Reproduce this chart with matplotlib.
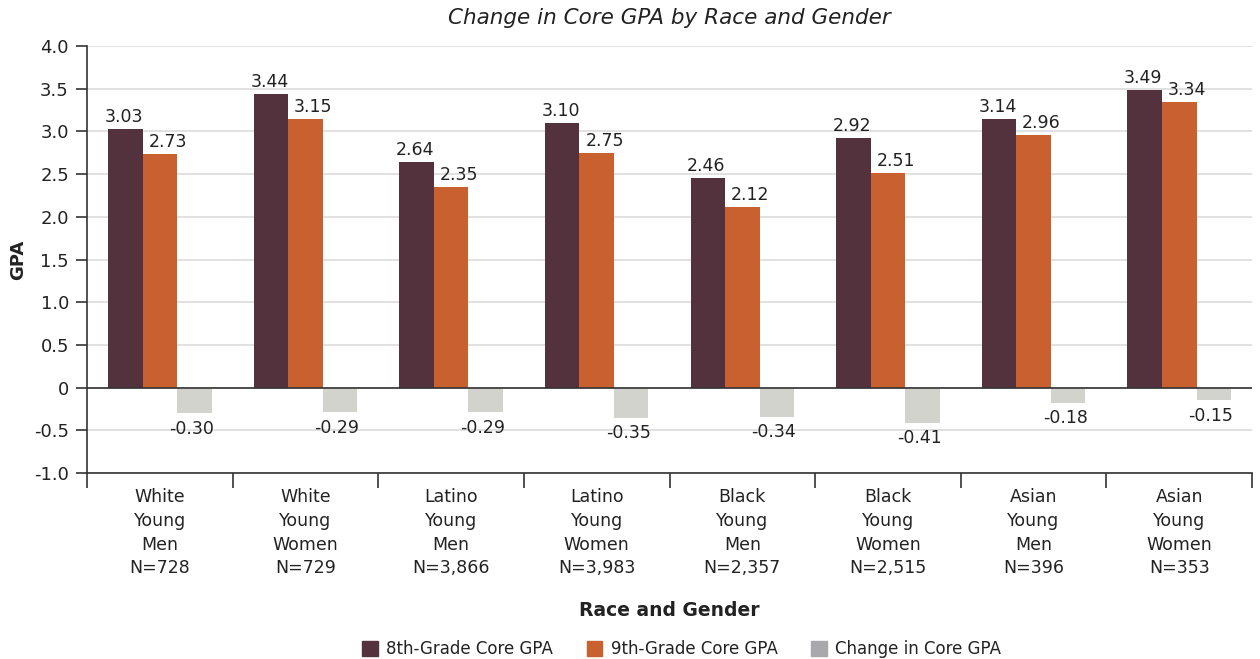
import numpy as np
import matplotlib
matplotlib.use("Agg")
import matplotlib.pyplot as plt
from matplotlib.patches import Patch

plt.rcParams['font.family'] = ['DejaVu Sans']

groups = ["White\nYoung\nMen\nN=728", "White\nYoung\nWomen\nN=729",
          "Latino\nYoung\nMen\nN=3,866", "Latino\nYoung\nWomen\nN=3,983",
          "Black\nYoung\nMen\nN=2,357", "Black\nYoung\nWomen\nN=2,515",
          "Asian\nYoung\nMen\nN=396", "Asian\nYoung\nWomen\nN=353"]
gpa_8th = [3.03, 3.44, 2.64, 3.10, 2.46, 2.92, 3.14, 3.49]
gpa_9th = [2.73, 3.15, 2.35, 2.75, 2.12, 2.51, 2.96, 3.34]
change = [-0.30, -0.29, -0.29, -0.35, -0.34, -0.41, -0.18, -0.15]

c8 = "#54323d"
c9 = "#c8612f"
cchg = "#d3d3cd"
clegchg = "#a9a9ad"
txt = "#222222"

fig = plt.figure(figsize=(12.6, 6.59), dpi=100)
ax = fig.add_axes([0.069, 0.2822, 0.9247, 0.6480])

x = np.arange(len(groups))
w = 0.237
b8 = ax.bar(x - w, gpa_8th, w, color=c8, zorder=3)
b9 = ax.bar(x, gpa_9th, w, color=c9, zorder=3)
bc = ax.bar(x + w, change, w, color=cchg, zorder=3)

# labels: 9th-grade ones sit a little right of their bar, like the original
for bars, vals, dx in [(b8, gpa_8th, -0.01), (b9, gpa_9th, 0.055)]:
    for r, v in zip(bars, vals):
        ax.text(r.get_x() + r.get_width() / 2 + dx, v + 0.035, f"{v:.2f}",
                ha='center', va='bottom', fontsize=12.5, color=txt, zorder=4)
for r, v in zip(bc, change):
    ax.text(r.get_x() + r.get_width() / 2 - 0.02, v - 0.075, f"{v:.2f}",
            ha='center', va='top', fontsize=12.5, color=txt, zorder=4)

ax.set_xlim(-0.5, len(groups) - 0.5)
ax.set_ylim(-1.0, 4.0)
yt = np.arange(-1.0, 4.01, 0.5)
ax.set_yticks(yt)
ax.set_yticklabels(["0" if abs(t) < 1e-9 else f"{t:.1f}" for t in yt])
ax.yaxis.grid(True, color="#dcdcdc", linewidth=1.2, zorder=0)
ax.axhline(0, color="#333333", linewidth=1.2, zorder=5)

ax.set_xticks(x)
ax.set_xticklabels(groups, fontsize=12.5, color=txt, linespacing=1.4)
ax.set_xticks(np.arange(-0.5, len(groups)), minor=True)
ax.tick_params(axis='x', which='major', length=0, pad=11)
ax.tick_params(axis='x', which='minor', length=11, width=1.2, color="#333333")
ax.tick_params(axis='y', length=8, width=1.2, color="#333333", labelsize=13,
               labelcolor=txt, pad=5)

for s in ['top', 'right']:
    ax.spines[s].set_visible(False)
for s in ['left', 'bottom']:
    ax.spines[s].set_color("#333333")
    ax.spines[s].set_linewidth(1.2)

ax.set_ylabel("GPA", fontsize=13, fontweight='bold', color=txt)
ax.yaxis.set_label_coords(-0.051, 0.5)
fig.text(0.531, 1 - 611 / 659, "Race and Gender", fontsize=13.5, fontweight='bold',
         color=txt, ha='center', va='center')
fig.text(0.531, 1 - 18 / 659, "Change in Core GPA by Race and Gender", fontsize=15.5,
         style='italic', color=txt, ha='center', va='center')

handles = [Patch(color=c8), Patch(color=c9), Patch(color=clegchg)]
fig.legend(handles, ["8th-Grade Core GPA", "9th-Grade Core GPA", "Change in Core GPA"],
           loc='center', bbox_to_anchor=(0.541, 0.015), ncol=3, frameon=False,
           fontsize=12, handlelength=0.95, handleheight=0.95, handletextpad=0.5,
           columnspacing=2.0, labelcolor=txt)

fig.savefig("out.png", dpi=100)
